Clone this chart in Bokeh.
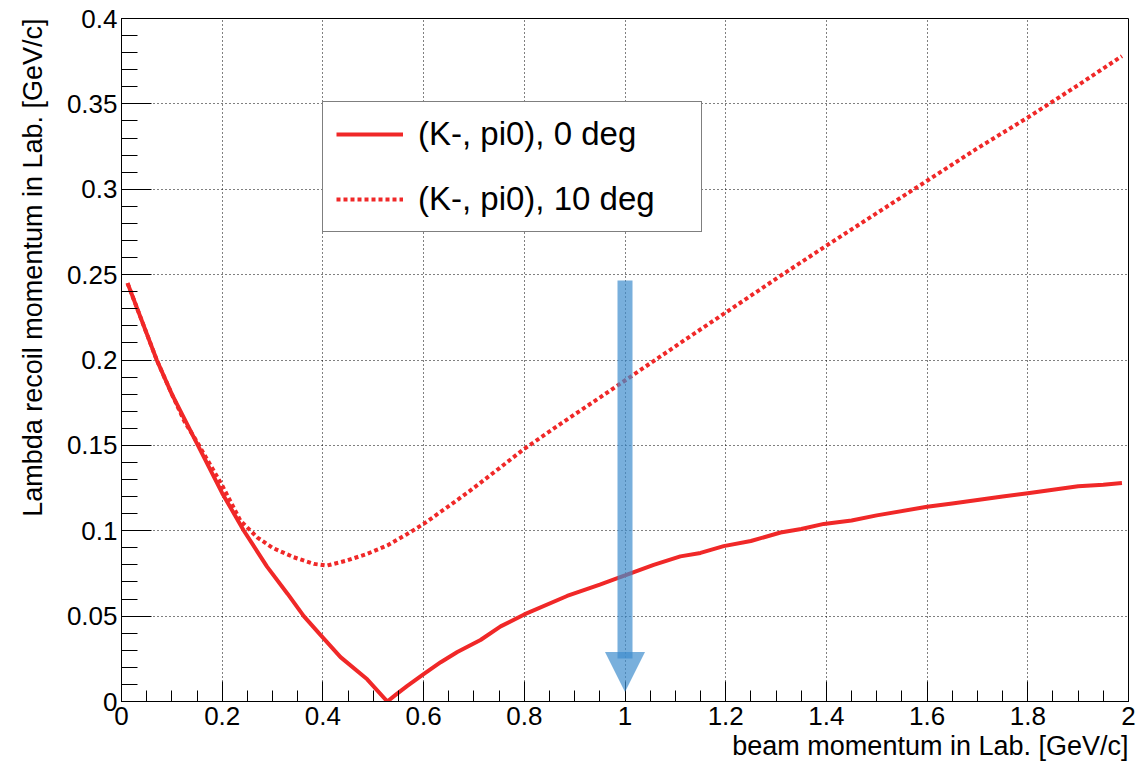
from bokeh.plotting import figure
from bokeh.models import Range1d, SingleIntervalTicker, CustomJSTickFormatter, Arrow, NormalHead, Title
from bokeh.embed import file_html
from bokeh.resources import INLINE

# ---- data ----
x_0deg = [0.012, 0.07, 0.10, 0.15, 0.20, 0.243, 0.289, 0.33, 0.362, 0.392, 0.435, 0.488,
          0.528, 0.545, 0.567, 0.600, 0.634, 0.667, 0.713, 0.753, 0.80, 0.885, 0.95, 1.0,
          1.057, 1.11, 1.15, 1.196, 1.25, 1.309, 1.35, 1.395, 1.45, 1.5, 1.6, 1.65, 1.7,
          1.75, 1.8, 1.85, 1.9, 1.95, 1.987]
y_0deg = [0.245, 0.200, 0.180, 0.151, 0.122, 0.100, 0.079, 0.063, 0.050, 0.040, 0.026, 0.013,
          0.0, 0.004, 0.009, 0.016, 0.023, 0.029, 0.036, 0.044, 0.051, 0.0618, 0.0685, 0.0738,
          0.080, 0.085, 0.087, 0.091, 0.094, 0.099, 0.101, 0.104, 0.106, 0.109, 0.114, 0.116,
          0.118, 0.120, 0.122, 0.124, 0.126, 0.127, 0.128]

x_10deg = [0.012, 0.07, 0.10, 0.125, 0.15, 0.20, 0.236, 0.27, 0.30, 0.342, 0.382, 0.408,
           0.448, 0.488, 0.528, 0.567, 0.60, 0.647, 0.693, 0.753, 0.80, 0.872, 0.95, 1.0,
           1.12, 1.196, 1.315, 1.395, 1.50, 1.60, 1.70, 1.80, 1.90, 1.987]
y_10deg = [0.245, 0.200, 0.180, 0.164, 0.152, 0.1265, 0.106, 0.096, 0.090, 0.0845, 0.0806, 0.0796,
           0.0826, 0.0865, 0.0914, 0.098, 0.104, 0.1138, 0.1236, 0.1372, 0.148, 0.1626, 0.178, 0.188,
           0.212, 0.227, 0.2505, 0.266, 0.286, 0.305, 0.324, 0.342, 0.361, 0.378]

label_0deg = "(K-, pi0), 0 deg"
label_10deg = "(K-, pi0), 10 deg"
x_title = "beam momentum in Lab. [GeV/c]"
y_title = "Lambda recoil momentum in Lab. [GeV/c]"

arrow_x = 1.0
arrow_top = 0.2466
arrow_shaft_bottom = 0.0252
arrow_tip = 0.0055

x_range = (0, 2)
y_range = (0, 0.4)
x_major, x_minor_n = 0.2, 4
y_major, y_minor_n = 0.05, 5

FONT = "Liberation Sans"
RED = "#f02828"
BLUE = "#3e8dcd"

p = figure(frame_width=1007, frame_height=683, output_backend="svg", toolbar_location=None,
           x_range=Range1d(*x_range), y_range=Range1d(*y_range),
           min_border_left=121, min_border_right=10, min_border_top=18, min_border_bottom=63,
           background_fill_color="white", border_fill_color="white")

p.outline_line_color = "black"
p.outline_line_width = 1

fmt = CustomJSTickFormatter(code="return Number(tick.toFixed(3)).toString();")
p.xaxis.ticker = SingleIntervalTicker(interval=x_major, num_minor_ticks=x_minor_n)
p.yaxis.ticker = SingleIntervalTicker(interval=y_major, num_minor_ticks=y_minor_n)
p.xaxis.formatter = fmt
p.yaxis.formatter = fmt

for ax in (p.xaxis, p.yaxis):
    ax.major_tick_out = 0
    ax.minor_tick_out = 0
    ax.major_tick_line_color = "black"
    ax.minor_tick_line_color = "black"
    ax.axis_line_color = "black"
    ax.major_label_text_font = FONT
    ax.major_label_text_font_size = "26px"
    ax.major_label_text_color = "black"

p.xaxis.major_tick_in = 20
p.xaxis.minor_tick_in = 11
p.yaxis.major_tick_in = 30
p.yaxis.minor_tick_in = 16
p.xaxis.major_label_standoff = 5
p.yaxis.major_label_standoff = 4

p.grid.grid_line_color = "black"
p.grid.grid_line_dash = "1 3"
p.grid.grid_line_width = 1

# axis titles, right / top aligned as in the original
p.add_layout(Title(text=x_title, align="right", standoff=2, text_font=FONT,
                   text_font_size="27px", text_font_style="normal", text_color="black"), "below")
p.add_layout(Title(text=y_title, align="right", standoff=31, text_font=FONT,
                   text_font_size="27px", text_font_style="normal", text_color="black"), "left")

p.line(x_0deg, y_0deg, line_color=RED, line_width=4, legend_label=label_0deg)
p.line(x_10deg, y_10deg, line_color=RED, line_width=4, line_dash="4 3", legend_label=label_10deg)

p.segment(x0=[arrow_x], y0=[arrow_top], x1=[arrow_x], y1=[arrow_shaft_bottom],
          line_color=BLUE, line_alpha=0.7, line_width=15, line_cap="butt")
p.add_layout(Arrow(end=NormalHead(size=40, fill_color=BLUE, fill_alpha=0.7, line_alpha=0),
                   x_start=arrow_x, y_start=arrow_shaft_bottom, x_end=arrow_x, y_end=arrow_tip,
                   line_alpha=0))

lg = p.legend[0]
lg.location = (201, 469)
lg.label_text_font = FONT
lg.label_text_font_size = "33px"
lg.label_text_color = "black"
lg.glyph_width = 67
lg.glyph_height = 38
lg.label_height = 38
lg.label_width = 270
lg.label_standoff = 15
lg.spacing = 27
lg.padding = 13
lg.margin = 0
lg.border_line_color = "black"
lg.border_line_width = 1
lg.background_fill_color = "white"
lg.background_fill_alpha = 1

open("out.html", "w").write(file_html(p, INLINE))
